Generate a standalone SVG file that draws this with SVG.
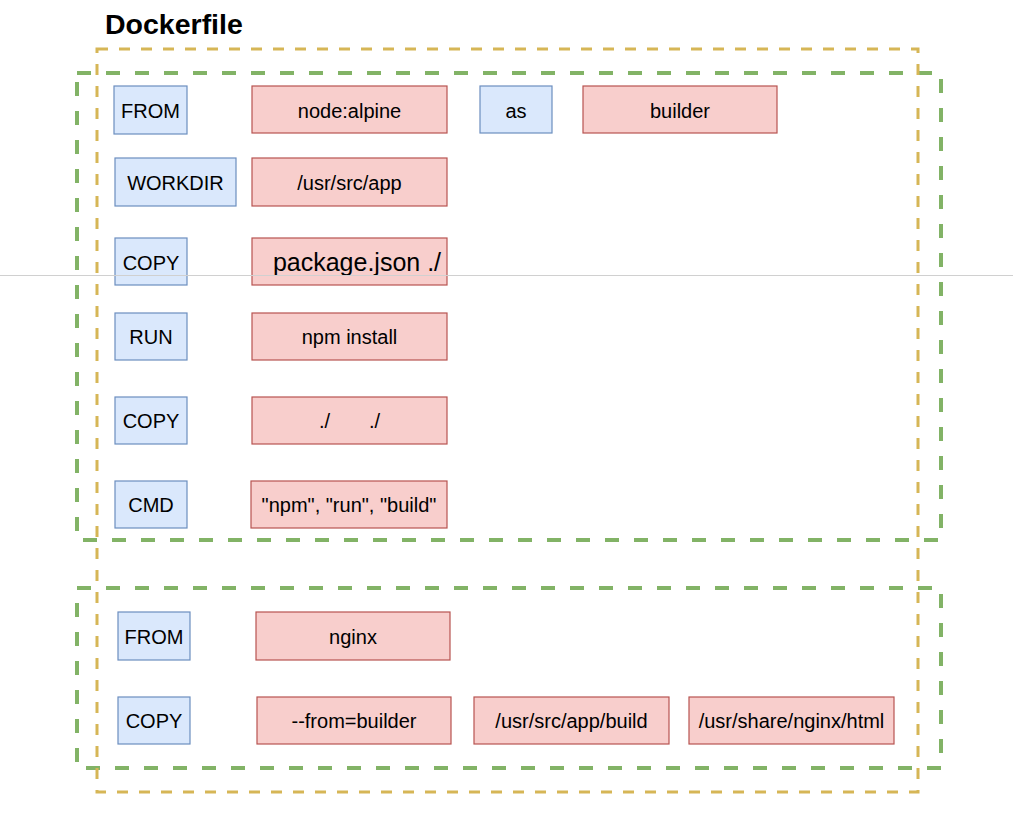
<svg xmlns="http://www.w3.org/2000/svg" width="1013" height="823" viewBox="0 0 1013 823">
<style>
.g{fill:none;stroke:#82b366;stroke-width:4;stroke-dasharray:14 15}
.y{fill:none;stroke:#d6b656;stroke-width:3;stroke-dasharray:11 11}
.b rect{fill:#dae8fc;stroke:#6c8ebf;stroke-width:1.2}
.r rect{fill:#f8cecc;stroke:#b85450;stroke-width:1.2}
text{font-family:"Liberation Sans",Arial,sans-serif;font-size:20px;fill:#000;text-anchor:middle;dominant-baseline:central}
</style>
<rect width="1013" height="823" fill="#fff"/>
<text x="105" y="24" style="font-size:28.5px;font-weight:bold;text-anchor:start">Dockerfile</text>
<g id="stage1"><rect class="g" x="77" y="73" width="864" height="467"/></g>
<g id="stage2"><rect class="g" x="77" y="588" width="864" height="180"/></g>
<g id="dockerfile"><rect class="y" x="97" y="49" width="821" height="743"/></g>
<g id="from1" class="b"><rect x="114" y="86" width="73" height="48"/><text x="150.5" y="111">FROM</text></g>
<g id="nodealpine" class="r"><rect x="252" y="86" width="195" height="47"/><text x="349.5" y="111">node:alpine</text></g>
<g id="as" class="b"><rect x="480" y="86" width="72" height="47"/><text x="516" y="111">as</text></g>
<g id="builder" class="r"><rect x="583" y="86" width="194" height="47"/><text x="680" y="111">builder</text></g>
<g id="workdir" class="b"><rect x="115" y="158" width="121" height="48"/><text x="175.5" y="183">WORKDIR</text></g>
<g id="usrsrcapp" class="r"><rect x="252" y="158" width="195" height="48"/><text x="349.5" y="183">/usr/src/app</text></g>
<g id="copy1" class="b"><rect x="115" y="238" width="72" height="47"/><text x="151" y="263">COPY</text></g>
<g id="packagejson" class="r"><rect x="252" y="238" width="195" height="47"/><text x="357" y="262" style="font-size:25px">package.json ./</text></g>
<g id="run" class="b"><rect x="115" y="313" width="72" height="47"/><text x="151" y="337">RUN</text></g>
<g id="npminstall" class="r"><rect x="252" y="313" width="195" height="47"/><text x="349.5" y="337">npm install</text></g>
<g id="copy2" class="b"><rect x="115" y="397" width="72" height="47"/><text x="151" y="421">COPY</text></g>
<g id="dotdot" class="r"><rect x="252" y="397" width="195" height="47"/><text x="349.5" y="421" style="white-space:pre">./       ./</text></g>
<g id="cmd" class="b"><rect x="115" y="481" width="72" height="47"/><text x="151" y="505">CMD</text></g>
<g id="npmrunbuild" class="r"><rect x="251" y="481" width="196" height="47"/><text x="349" y="505">"npm", "run", "build"</text></g>
<g id="from2" class="b"><rect x="118" y="612" width="72" height="48"/><text x="154" y="637">FROM</text></g>
<g id="nginx" class="r"><rect x="256" y="612" width="194" height="48"/><text x="353" y="637">nginx</text></g>
<g id="copy3" class="b"><rect x="118" y="697" width="72" height="47"/><text x="154" y="721">COPY</text></g>
<g id="frombuilder" class="r"><rect x="257" y="697" width="194" height="47"/><text x="354" y="721">--from=builder</text></g>
<g id="usrsrcappbuild" class="r"><rect x="474" y="697" width="195" height="47"/><text x="571.5" y="721">/usr/src/app/build</text></g>
<g id="nginxhtml" class="r"><rect x="689" y="697" width="205" height="47"/><text x="791.5" y="721">/usr/share/nginx/html</text></g>
<g id="connectors"><line x1="0" y1="275.5" x2="1013" y2="275.5" stroke="#d0d0d0" stroke-width="1"/></g>
</svg>
